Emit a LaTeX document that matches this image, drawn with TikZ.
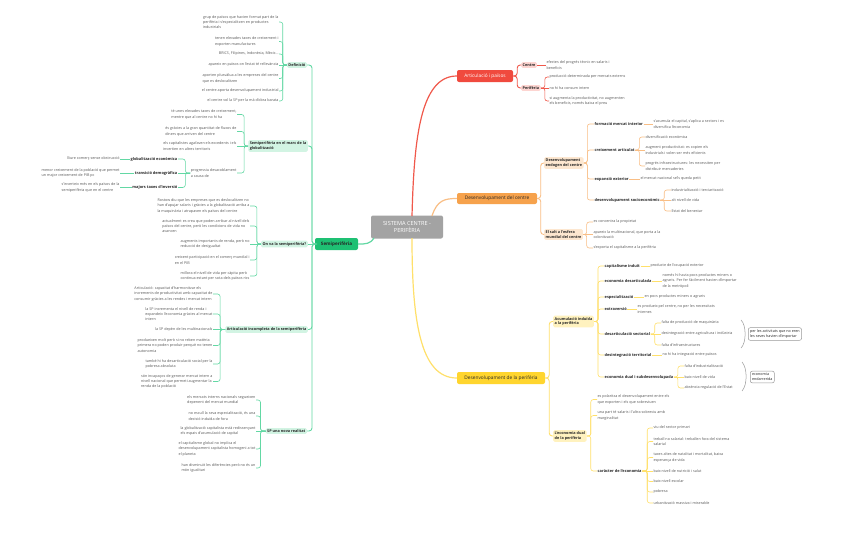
\documentclass[tikz,border=0pt]{standalone}
\usepackage{fontspec}
\setmainfont{Open Sans}
\definecolor{redM}{HTML}{F04A3E}
\definecolor{redL}{HTML}{F0584B}
\definecolor{redS}{HTML}{FDD5D1}
\definecolor{oraM}{HTML}{F6A24C}
\definecolor{oraL}{HTML}{F9BE85}
\definecolor{oraS}{HTML}{FDE7D0}
\definecolor{yelM}{HTML}{FFD52E}
\definecolor{yelL}{HTML}{FFE06A}
\definecolor{yelS}{HTML}{FFF2BF}
\definecolor{greM}{HTML}{1EC073}
\definecolor{greL}{HTML}{63D8A4}
\definecolor{greS}{HTML}{D2F4E3}
\definecolor{grayC}{HTML}{A3A3A3}
\definecolor{leafc}{HTML}{5A5A5A}
\definecolor{ssc}{HTML}{262626}
\newcommand\lfnt{\fontsize{3.7}{5.3}\selectfont}
\newcommand\ssfnt{\fontsize{3.9}{5}\selectfont\bfseries}
\newcommand\sbfnt{\fontsize{3.8}{4.9}\selectfont\bfseries}
\newcommand\mbfnt{\fontsize{4.8}{6}\selectfont}
\newcommand\cfnt{\fontsize{5.6}{7.6}\selectfont}
\begin{document}
\begin{tikzpicture}[x=1pt,y=-1pt,
 leafR/.style={anchor=west,align=left,font=\lfnt,text=leafc,inner sep=0.3pt},
 leafL/.style={anchor=east,align=left,font=\lfnt,text=leafc,inner sep=0.3pt},
 ssR/.style={anchor=west,font=\ssfnt,text=ssc,inner sep=0.5pt},
 ssL/.style={anchor=east,font=\ssfnt,text=ssc,inner sep=0.5pt},
 subbox/.style={rounded corners=1.5pt,inner sep=1.5pt,font=\sbfnt,align=left,text=ssc},
 mainb/.style={rounded corners=2pt,font=\mbfnt,minimum height=12pt,inner sep=1pt},
 conn/.style={rounded corners=2.5pt,line width=0.6pt},
 conn2/.style={rounded corners=3pt,line width=0.9pt},
 trunk/.style={line width=1.2pt}]
\useasboundingbox (0,0) rectangle (848,541);
\fill[white] (0,0) rectangle (848,541);

% ---------- root
\node[fill=grayC,rounded corners=2pt,minimum width=72pt,minimum height=23pt,text=white,font=\cfnt,align=center,inner sep=1pt] (root) at (407,227) {SISTEMA CENTRE -\\PERIFÈRIA};
\coordinate (rTop) at (412,216);
\coordinate (oTop) at (432,216);
\coordinate (yBot) at (412,238);
\coordinate (gBot) at (374,238);

% ---------- RED
\node[mainb,fill=redM,text=white,minimum width=56pt] (art) at (485,76) {Articulació i països};
\node[subbox,fill=redS,anchor=west] (centre) at (521,65) {Centre};
\node[subbox,fill=redS,anchor=west] (perif) at (521,88) {Perifèria};
\node[leafR] (c1) at (546,65) {efectes del progrés tècnic en salaris i\\beneficis};
\node[leafR] (p1) at (549,77) {producció determinada per mercats externs};
\node[leafR] (p2) at (549,88) {no hi ha consum intern};
\node[leafR] (p3) at (549,101) {si augmenta la productivitat, no augmenten\\els beneficis, només baixa el preu};
\draw[redL,trunk] (rTop) .. controls (414,140) and (420,76) .. (art.west);
\draw[redL,conn2] (art.east) -- ++(4,0) |- (centre.west);
\draw[redL,conn2] (art.east) -- ++(4,0) |- (perif.west);
\draw[redL,conn] (centre.east) -- (c1.west);
\draw[redL,conn] (perif.east) -- ++(4,0) |- (p1.west);
\draw[redL,conn] (perif.east) -- (p2.west);
\draw[redL,conn] (perif.east) -- ++(4,0) |- (p3.west);

% ---------- ORANGE
\node[mainb,fill=oraM,text=ssc,minimum width=80pt,minimum height=11pt] (dc) at (497,198.5) {Desenvolupament del centre};
\node[subbox,fill=oraS,anchor=west] (endo) at (544,163) {Desenvolupament\\endogen del centre};
\node[subbox,fill=oraS,anchor=west] (salt) at (544,234.5) {El salt a l'esfera\\mundial del centre};
\draw[oraL,trunk] (oTop) .. controls (437,200) and (445,198.5) .. (dc.west);
\draw[oraL,conn2] (dc.east) -- ++(3.5,0) |- (endo.west);
\draw[oraL,conn2] (dc.east) -- ++(3.5,0) |- (salt.west);

\node[ssR] (fmi) at (594,124) {formació mercat interior};
\node[ssR] (ca) at (594,150) {creixement articulat};
\node[ssR] (ee) at (594,179) {expansió exterior};
\node[ssR] (ds) at (594,200) {desenvolupament socioeconòmic};
\foreach \c in {fmi,ca,ee,ds} \draw[oraL,conn] (endo.east) -- ++(3.5,0) |- (\c.west);

\node[leafR] (fmi1) at (653,124) {s'acumula el capital, s'aplica a sectors i es\\diversifica l'economia};
\draw[oraL,conn] (fmi.east) -- (fmi1.west);
\node[leafR] (ca1) at (645,137) {diversificació econòmica};
\node[leafR] (ca2) at (645,150) {augment productivitat: es copien els\\industrials i volen ser més eficients};
\node[leafR] (ca3) at (645,166) {progrés infraestructures: les necessiten per\\distribuir mercaderies};
\draw[oraL,conn] (ca.east) -- ++(4,0) |- (ca1.west);
\draw[oraL,conn] (ca.east) -- (ca2.west);
\draw[oraL,conn] (ca.east) -- ++(4,0) |- (ca3.west);
\node[leafR] (ee1) at (640,179) {el mercat nacional se'ls queda petit};
\draw[oraL,conn] (ee.east) -- (ee1.west);
\node[leafR] (ds1) at (671,190) {industrialització i terciarització};
\node[leafR] (ds2) at (671,200) {alt nivell de vida};
\node[leafR] (ds3) at (671,211) {Estat del benestar};
\draw[oraL,conn] (ds.east) -- ++(4,0) |- (ds1.west);
\draw[oraL,conn] (ds.east) -- (ds2.west);
\draw[oraL,conn] (ds.east) -- ++(4,0) |- (ds3.west);

\node[leafR] (s1) at (593,222) {es concentra la propietat};
\node[leafR] (s2) at (593,234.5) {apareix la multinacional, que porta a la\\colonització};
\node[leafR] (s3) at (593,248) {s'exporta el capitalisme a la perifèria};
\draw[oraL,conn] (salt.east) -- ++(3.5,0) |- (s1.west);
\draw[oraL,conn] (salt.east) -- (s2.west);
\draw[oraL,conn] (salt.east) -- ++(3.5,0) |- (s3.west);

% ---------- YELLOW
\node[mainb,fill=yelM,text=ssc,minimum width=88pt] (dp) at (501,378) {Desenvolupament de la perifèria};
\node[subbox,fill=yelS,anchor=west] (ai) at (553,321.5) {Acumulació induïda\\a la perifèria};
\node[subbox,fill=yelS,anchor=west] (ed) at (553,436) {L'economia dual\\de la perifèria};
\draw[yelL,trunk] (yBot) .. controls (412,320) and (420,378) .. (dp.west);
\draw[yelL,conn2] (dp.east) -- ++(4,0) |- (ai.west);
\draw[yelL,conn2] (dp.east) -- ++(4,0) |- (ed.west);

\node[ssR] (ci) at (604,266) {capitalisme induït};
\node[ssR] (eda) at (604,281) {economia desarticulada};
\node[ssR] (esp) at (604,297) {especialització};
\node[ssR] (ext) at (604,309) {extraversió};
\node[ssR] (des) at (604,334) {desarticulació sectorial};
\node[ssR] (dt) at (604,355) {desintegració territorial};
\node[ssR] (edu) at (604,377) {economia dual i subdesenvolupada};
\foreach \c in {ci,eda,esp,ext,des,dt,edu} \draw[yelL,conn] (ai.east) -- ++(4,0) |- (\c.west);

\node[leafR] (ci1) at (650,266) {producte de l'ocupació exterior};
\draw[yelL,conn] (ci.east) -- (ci1.west);
\node[leafR] (eda1) at (662,281) {només hi havia pocs productes miners o\\agraris. Per fer fàcilment havien d'importar\\de la metròpoli};
\draw[yelL,conn] (eda.east) -- (eda1.west);
\node[leafR] (esp1) at (644,297) {en pocs productes miners o agraris};
\draw[yelL,conn] (esp.east) -- (esp1.west);
\node[leafR] (ext1) at (637,309) {es produeix pel centre, no per les necessitats\\internes};
\draw[yelL,conn] (ext.east) -- (ext1.west);
\node[leafR] (des1) at (661,323) {falta de producció de maquinària};
\node[leafR] (des2) at (661,334) {desintegració entre agricultura i indústria};
\node[leafR] (des3) at (661,345) {falta d'infraestructures};
\draw[yelL,conn] (des.east) -- ++(4,0) |- (des1.west);
\draw[yelL,conn] (des.east) -- (des2.west);
\draw[yelL,conn] (des.east) -- ++(4,0) |- (des3.west);
\node[leafR] (dt1) at (662,355) {no hi ha integració entre països};
\draw[yelL,conn] (dt.east) -- (dt1.west);
\node[leafR] (edu1) at (684,366) {falta d'industrialització};
\node[leafR] (edu2) at (684,377) {baix nivell de vida};
\node[leafR] (edu3) at (684,388) {absència regulació de l'Estat};
\draw[yelL,conn] (edu.east) -- ++(4,0) |- (edu1.west);
\draw[yelL,conn] (edu.east) -- (edu2.west);
\draw[yelL,conn] (edu.east) -- ++(4,0) |- (edu3.west);

\draw[gray!80,line width=0.5pt] (741,320) .. controls (746.5,325) and (746.5,343) .. (741,348);
\draw[gray!80,line width=0.5pt] (742,362) .. controls (747.5,368) and (747.5,385) .. (742,391);
\node[draw=gray!80,line width=0.5pt,rounded corners=2pt,fill=white,font=\lfnt,text=ssc,align=left,inner sep=1.8pt,anchor=west] (nb1) at (748,334) {per les activitats que no eren\\les seves havien d'importar};
\node[draw=gray!80,line width=0.5pt,rounded corners=2pt,fill=white,font=\lfnt,text=ssc,align=left,inner sep=1.8pt,anchor=west] (nb2) at (750,377) {economia\\endarrerida};

\node[leafR] (ed1) at (597,399.5) {es polaritza el desenvolupament entre els\\que exporten i els que sobreviuen};
\node[leafR] (ed2) at (597,415.5) {una part té salaris i l'altra sobreviu amb\\marginalitat};
\node[ssR] (car) at (597,471) {caràcter de l'economia};
\foreach \c in {ed1,ed2,car} \draw[yelL,conn] (ed.east) -- ++(4,0) |- (\c.west);
\node[leafR] (k1) at (653,428) {viu del sector primari};
\node[leafR] (k2) at (653,441.5) {treball no salarial: treballen fora del sistema\\salarial};
\node[leafR] (k3) at (653,457.5) {taxes altes de natalitat i mortalitat, baixa\\esperança de vida};
\node[leafR] (k4) at (653,471) {baix nivell de nutrició i salut};
\node[leafR] (k5) at (653,481.5) {baix nivell escolar};
\node[leafR] (k6) at (653,492) {pobresa};
\node[leafR] (k7) at (653,503) {urbanització massiva i miserable};
\foreach \c in {k1,k2,k3,k5,k6,k7} \draw[yelL,conn] (car.east) -- ++(5,0) |- (\c.west);
\draw[yelL,conn] (car.east) -- (k4.west);

% ---------- GREEN
\node[mainb,fill=greM,text=ssc,minimum width=43pt,font=\fontsize{4.6}{6}\selectfont\bfseries] (semi) at (336.5,244) {Semiperifèria};
\draw[greL,trunk] (gBot) .. controls (370,244) and (366,244) .. (semi.east);
\node[subbox,fill=greS,anchor=east] (def) at (307,65) {Definició};
\node[subbox,fill=greS,anchor=east] (smg) at (308,146) {Semiperifèria en el marc de la\\globalització};
\node[subbox,fill=greS,anchor=east] (onva) at (308,244) {On va la semiperifèria?};
\node[subbox,fill=greS,anchor=east] (aisp) at (308,329.5) {Articulació incompleta de la semiperifèria};
\node[subbox,fill=greS,anchor=east] (spnr) at (307,431) {SP una nova realitat};
\draw[greL,conn2] (semi.west) -- (onva.east);
\foreach \c in {def,smg,aisp,spnr} \draw[greL,conn2] (semi.west) -- (312,244) |- (\c.east);

% Definició
\node[leafL] (d1) at (279,22) {grup de països que havien format part de la\\perifèria i s'especialitzen en productes\\industrials};
\node[leafL] (d2) at (279,41.5) {tenen elevades taxes de creixement i\\exporten manufactures};
\node[leafL] (d3) at (279,54) {BRICS, Filipines, Indonèsia, Mèxic...};
\node[leafL] (d4) at (279,65) {apareix en països on l'estat té rellevància};
\node[leafL] (d5) at (279,78.5) {aporten plusvàlua a les empreses del centre\\que es deslocalitzen};
\node[leafL] (d6) at (279,91) {el centre aporta desenvolupament industrial};
\node[leafL] (d7) at (279,101) {el centre vol la SP per la mà d'obra barata};
\foreach \c in {d1,d2,d3,d5,d6,d7} \draw[greL,conn] (def.west) -- ++(-4,0) |- (\c.east);
\draw[greL,conn] (def.west) -- (d4.east);

% marc globalització
\node[leafL] (g1) at (237,114.5) {té unes elevades taxes de creixement,\\mentre que al centre no hi ha};
\node[leafL] (g2) at (237,131.5) {és gràcies a la gran quantitat de fluxos de\\diners que arriven del centre};
\node[leafL] (g3) at (237,146) {els capitalistes agafaven els excedents i els\\invertien en altres territoris};
\node[leafL] (prog) at (237,173) {progressiu desacoblament\\a causa de};
\foreach \c in {g1,g2,prog} \draw[greL,conn] (smg.west) -- ++(-4,0) |- (\c.east);
\draw[greL,conn] (smg.west) -- (g3.east);
\node[ssL] (ge) at (178,159) {globalització econòmica};
\node[ssL] (td) at (178,173) {transició demogràfica};
\node[ssL] (mt) at (178,187.5) {majors taxes d'inversió};
\draw[greL,conn] (prog.west) -- ++(-5,0) |- (ge.east);
\draw[greL,conn] (prog.west) -- (td.east);
\draw[greL,conn] (prog.west) -- ++(-5,0) |- (mt.east);
\node[leafL] (ge1) at (120,159) {lliure comerç sense obstrucció};
\node[leafL] (td1) at (120,173) {menor creixement de la població que permet\\un major creixement de PIB pc};
\node[leafL] (mt1) at (120,187.5) {s'inverteix més en els països de la\\semiperifèria que en el centre};
\draw[greL,conn] (ge.west) -- (ge1.east);
\draw[greL,conn] (td.west) -- (td1.east);
\draw[greL,conn] (mt.west) -- (mt1.east);

% On va
\node[leafL] (o1) at (250,206) {Rostow diu que les empreses que es deslocalitzen no\\han d'apujar salaris i gràcies a la globalització arriba a\\la maquinària i atrapaven els països del centre};
\node[leafL] (o2) at (250,226) {actualment es creu que poden arribar al nivell dels\\països del centre, però les condicions de vida no\\avancen};
\node[leafL] (o3) at (250,244) {augments importants de renda, però no\\reducció de desigualtat};
\node[leafL] (o4) at (250,260) {creixent participació en el comerç mundial i\\en el PIB};
\node[leafL] (o5) at (250,276) {millora el nivell de vida per càpita però\\continua estant per sota dels països rics};
\foreach \c in {o1,o2,o4,o5} \draw[greL,conn] (onva.west) -- ++(-4,0) |- (\c.east);
\draw[greL,conn] (onva.west) -- (o3.east);

% Articulació incompleta
\node[leafL] (a1) at (213,294) {Articulació: capacitat d'harmonitzar els\\increments de productivitat amb capacitat de\\consumir gràcies a les rendes i mercat intern};
\node[leafL] (a2) at (213,314) {la SP incrementa el nivell de renda i\\expandeix l'economia gràcies al mercat\\intern};
\node[leafL] (a3) at (213,329.5) {la SP depèn de les multinacionals};
\node[leafL] (a4) at (213,345.5) {produeixen molt però si no reben matèria\\primera no poden produir perquè no tenen\\autonomia};
\node[leafL] (a5) at (213,364) {també hi ha desarticulació social per la\\pobresa absoluta};
\node[leafL] (a6) at (213,381.5) {són incapaços de generar mercat intern a\\nivell nacional que permeti augmentar la\\renda de la població};
\foreach \c in {a1,a2,a4,a5,a6} \draw[greL,conn] (aisp.west) -- ++(-5,0) |- (\c.east);
\draw[greL,conn] (aisp.west) -- (a3.east);

% SP nova realitat
\node[leafL] (n1) at (256,400) {els mercats interns nacionals segueixen\\depenent del mercat mundial};
\node[leafL] (n2) at (256,416) {no escull la seva especialització, és una\\decisió induïda de fora};
\node[leafL] (n3) at (256,431) {la globalització capitalista està redissenyant\\els espais d'acumulació de capital};
\node[leafL] (n4) at (256,449) {el capitalisme global no implica el\\desenvolupament capitalista homogeni a tot\\el planeta};
\node[leafL] (n5) at (256,468) {han disminuït les diferències però no és un\\món igualitari};
\foreach \c in {n1,n2,n4,n5} \draw[greL,conn] (spnr.west) -- ++(-5,0) |- (\c.east);
\draw[greL,conn] (spnr.west) -- (n3.east);
\end{tikzpicture}
\end{document}
